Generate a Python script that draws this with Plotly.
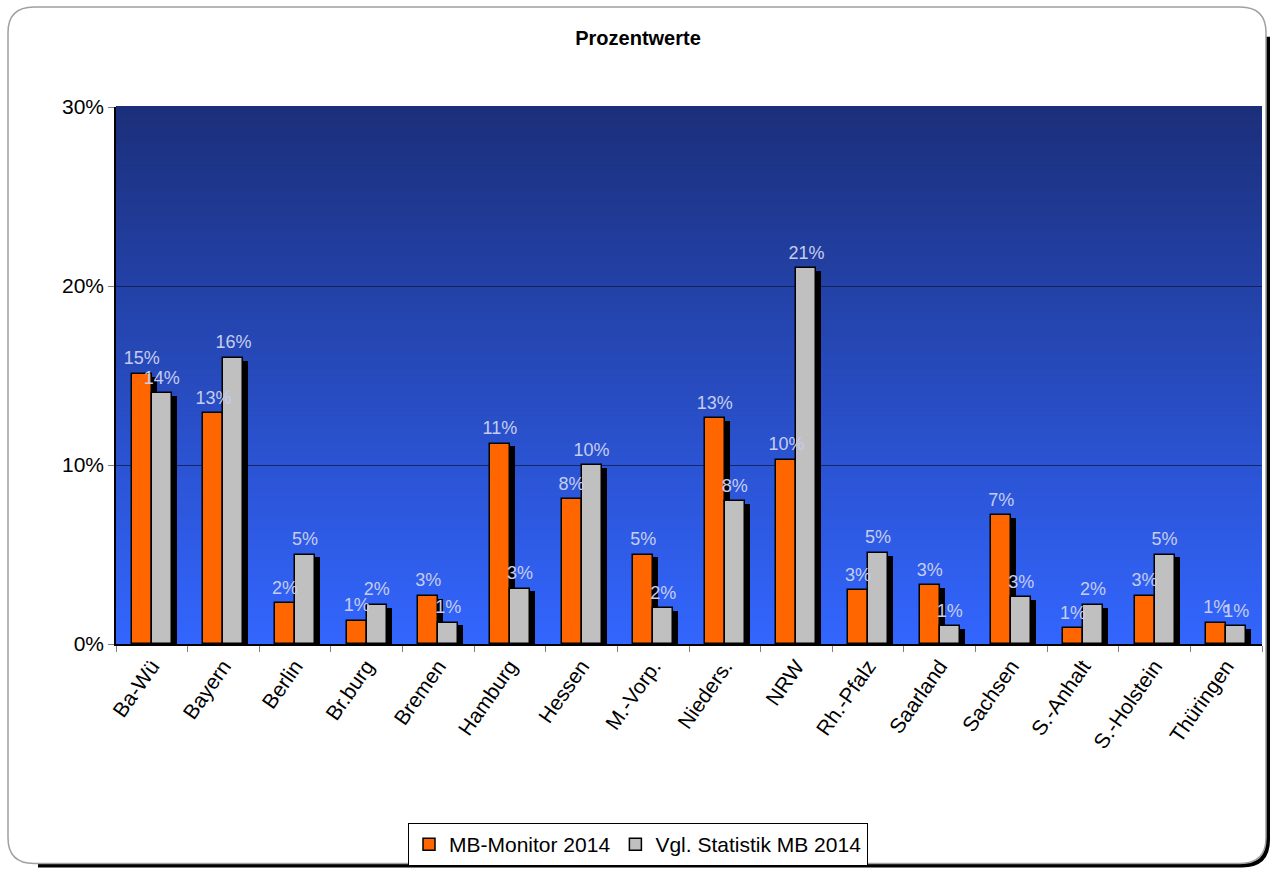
import plotly.graph_objects as go

# Bundeslaender, shares as fractions
laender = ["Ba-Wü", "Bayern", "Berlin", "Br.burg", "Bremen", "Hamburg", "Hessen", "M.-Vorp.",
           "Nieders.", "NRW", "Rh.-Pfalz", "Saarland", "Sachsen", "S.-Anhalt", "S.-Holstein", "Thüringen"]
mb_monitor = [0.151, 0.129, 0.023, 0.013, 0.027, 0.112, 0.081, 0.050,
              0.126, 0.103, 0.030, 0.033, 0.072, 0.009, 0.027, 0.012]
statistik = [0.140, 0.160, 0.050, 0.022, 0.012, 0.031, 0.100, 0.020,
             0.080, 0.210, 0.051, 0.010, 0.026, 0.022, 0.050, 0.010]
y_ticks = [0, 0.1, 0.2, 0.3]

W, H = 1276, 878
L, R, T, B = 116, 14, 107, 228
PW, PH = W - L - R, H - T - B

ORANGE = "#ff6600"
GRAY = "#c0c0c0"
LABEL = "#c6cdee"
bw = 0.28
sx = 5 / PW * len(laender)   # shadow shift right (x units)
sy = 3 / PH * 0.30           # shadow shift down (data units)
idx = list(range(len(laender)))


def px(x):
    return (x - L) / PW


def py(y):
    return (H - B - y) / PH


fig = go.Figure()

# shadows
for vals, off in [(mb_monitor, -bw), (statistik, 0)]:
    fig.add_trace(go.Bar(x=idx, y=[v - sy for v in vals], offset=off + sx, width=bw,
                         marker=dict(color="black", line=dict(width=0)),
                         showlegend=False, hoverinfo="skip"))

fig.add_trace(go.Bar(x=idx, y=mb_monitor, name="MB-Monitor 2014", offset=-bw, width=bw,
                     marker=dict(color=ORANGE, line=dict(color="black", width=1.5))))
fig.add_trace(go.Bar(x=idx, y=statistik, name="Vgl. Statistik MB 2014", offset=0, width=bw,
                     marker=dict(color=GRAY, line=dict(color="black", width=1.5))))

# value labels above the bars
for vals, shift in [(mb_monitor, -bw / 2), (statistik, bw / 2)]:
    fig.add_trace(go.Scatter(x=[i + shift for i in idx], y=vals, mode="markers+text",
                             text=["%d%%" % round(v * 100) for v in vals], textposition="top center",
                             marker=dict(size=6, opacity=0), textfont=dict(color=LABEL, size=18),
                             showlegend=False, hoverinfo="skip", cliponaxis=False))

# gradient background of the plot area
shapes = []
n = 120
top, bot = (27, 47, 122), (51, 102, 255)
for i in range(n):
    f = (i + 0.5) / n
    c = tuple(int(round(bot[k] + (top[k] - bot[k]) * f)) for k in range(3))
    shapes.append(dict(type="rect", xref="x domain", yref="y domain", x0=0, x1=1,
                       y0=i / n, y1=(i + 1) / n + 0.002, layer="below",
                       fillcolor="rgb(%d,%d,%d)" % c, line=dict(width=0)))

# rounded outer frame with shadow
x0, y0, x1, y1, r = 8, 6, 1266, 872, 26


def frame_path(x0, y0, x1, y1, r):
    p = [("M", x0 + r, y0), ("L", x1 - r, y0), ("Q", x1, y0, x1, y0 + r), ("L", x1, y1 - r),
         ("Q", x1, y1, x1 - r, y1), ("L", x0 + r, y1), ("Q", x0, y1, x0, y1 - r),
         ("L", x0, y0 + r), ("Q", x0, y0, x0 + r, y0)]
    s = ""
    for seg in p:
        pts = seg[1:]
        s += seg[0] + " " + " ".join("%.5f,%.5f" % (px(pts[j]), py(pts[j + 1])) for j in range(0, len(pts), 2)) + " "
    return s + "Z"


shadow = "M %.5f,%.5f L %.5f,%.5f Q %.5f,%.5f %.5f,%.5f L %.5f,%.5f" % (
    px(x1 + 2), py(y0 + r + 4), px(x1 + 2), py(y1 - r + 2),
    px(x1 + 2), py(y1 + 2), px(x1 - r + 2), py(y1 + 2), px(x0 + r + 4), py(y1 + 2))
shapes.append(dict(type="path", xref="paper", yref="paper", path=shadow,
                   line=dict(color="black", width=4), layer="above"))
shapes.append(dict(type="path", xref="paper", yref="paper", path=frame_path(x0, y0, x1, y1, r),
                   line=dict(color="#a0a0a0", width=1.5), layer="above"))

fig.update_layout(
    width=W, height=H,
    margin=dict(l=L, r=R, t=T, b=B),
    paper_bgcolor="white", plot_bgcolor="#2a4cc0",
    font=dict(family="Liberation Sans, Arial", color="black", size=21),
    title=dict(text="<b>Prozentwerte</b>", x=0.5, xref="container", y=1 - 38 / H, yanchor="middle",
               font=dict(size=20, color="black")),
    barmode="overlay", bargap=0, showlegend=True, shapes=shapes,
    legend=dict(orientation="h", x=px(638), xanchor="center", y=py(831), yanchor="top",
                bordercolor="black", borderwidth=1, bgcolor="white",
                font=dict(size=21), traceorder="normal", itemwidth=30),
    xaxis=dict(range=[-0.5, len(laender) - 0.5], tickvals=idx, ticktext=laender, ticks="",
               minor=dict(tickvals=[i - 0.5 for i in idx] + [len(laender) - 0.5], ticks="outside",
                          ticklen=6, tickcolor="#808080", showgrid=False),
               showline=True, linecolor="black", linewidth=1.5, tickangle=-55,
               tickfont=dict(size=21), showgrid=False, zeroline=False),
    yaxis=dict(range=[0, 0.30], tickvals=y_ticks, tickformat=".0%", ticks="outside", ticklen=6,
               tickcolor="#808080", showline=True, linecolor="black", linewidth=1.5,
               showgrid=True, gridcolor="rgba(10,20,60,0.7)", gridwidth=1, zeroline=False,
               tickfont=dict(size=21)),
)

fig.write_html("out.html", config={"displayModeBar": False},
               post_script="document.body.style.margin='0';")
